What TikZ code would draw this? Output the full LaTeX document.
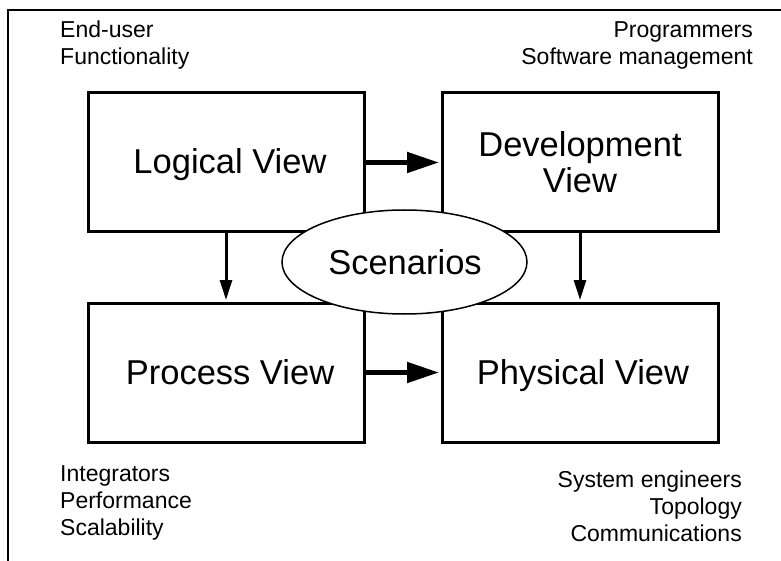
\documentclass[tikz,border=0pt]{standalone}
\usepackage{fontspec}
\setmainfont{Liberation Sans}
\usetikzlibrary{arrows.meta,shapes.geometric}
\tikzset{
  viewbox/.style={draw, line width=3pt, minimum width=276pt, minimum height=139pt, inner sep=0pt},
  bigtext/.style={font=\fontsize{34.5}{36}\selectfont, inner sep=0pt, anchor=base},
  smalltext/.style={font=\fontsize{23}{27}\selectfont, inner sep=0pt},
  bigarrow/.style={line width=5pt, -{Triangle[length=32pt,width=20pt]}, shorten >=1.5pt},
  downarrow/.style={line width=3pt, -{Triangle[length=20pt,width=12pt]}, shorten >=1.5pt},
  scen/.style={ellipse, draw, line width=1.5pt, fill=white, minimum width=245pt, minimum height=104pt, inner sep=0pt}
}
\begin{document}
\begin{tikzpicture}[x=1pt,y=-1pt]
\useasboundingbox (0,0) rectangle (781,561);
\draw[line width=2pt] (7.5,561) -- (7.5,10.5) -- (781,10.5);

\node[viewbox] (L) at (226,162.5) {};
\node[viewbox] (D) at (580,162.5) {};
\node[viewbox] (P) at (226,372.5) {};
\node[viewbox] (Y) at (580,372.5) {};

\draw[bigarrow] (L.east) -- (D.west);
\draw[bigarrow] (P.east) -- (Y.west);
\draw[downarrow] (L.south) -- (P.north);
\draw[downarrow] (D.south) -- (Y.north);

\node[scen] (S) at (404.5,262) {};

\node[bigtext] (Lt) at (230,174) {Logical View};
\node[bigtext] (Dt1) at (580,157) {Development};
\node[bigtext] (Dt2) at (580,193) {View};
\node[bigtext] (Pt) at (230,384) {Process View};
\node[bigtext] (Yt) at (583,384) {Physical View};
\node[bigtext] (St) at (405,274) {Scenarios};

\node[smalltext, anchor=base west] (a1) at (60,37.5) {End-user};
\node[smalltext, anchor=base west] (a2) at (60,64.5) {Functionality};
\node[smalltext, anchor=base east] (b1) at (753,37.5) {Programmers};
\node[smalltext, anchor=base east] (b2) at (753,64.5) {Software management};
\node[smalltext, anchor=base west] (c1) at (60,481) {Integrators};
\node[smalltext, anchor=base west] (c2) at (60,508) {Performance};
\node[smalltext, anchor=base west] (c3) at (60,535) {Scalability};
\node[smalltext, anchor=base east] (d1) at (742,487) {System engineers};
\node[smalltext, anchor=base east] (d2) at (742,514) {Topology};
\node[smalltext, anchor=base east] (d3) at (742,541) {Communications};
\end{tikzpicture}
\end{document}
